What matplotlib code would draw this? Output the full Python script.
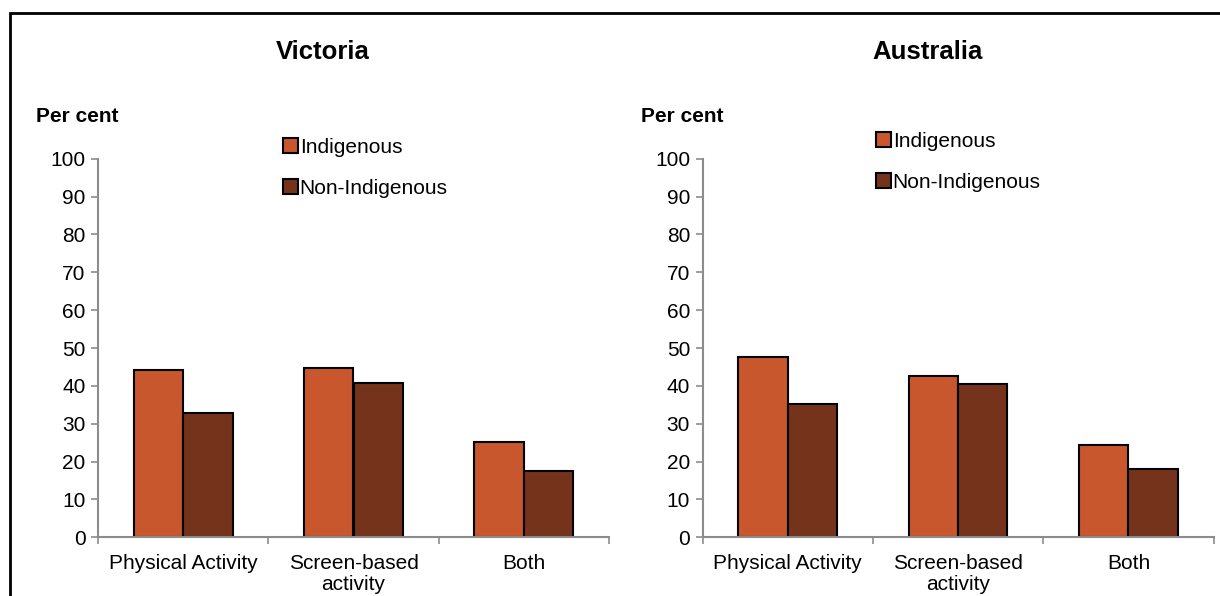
import numpy as np
import matplotlib
matplotlib.use('Agg')
import matplotlib.pyplot as plt
from matplotlib.patches import Rectangle
from matplotlib.ticker import FixedLocator

plt.rcParams['font.family'] = ['Liberation Sans', 'DejaVu Sans']

# データ
categories = ['Physical Activity', 'Screen-based\nactivity', 'Both']
series_names = ['Indigenous', 'Non-Indigenous']
victoria_indigenous = [44.3, 44.7, 25.2]
victoria_non_indigenous = [32.8, 40.8, 17.6]
australia_indigenous = [47.6, 42.5, 24.5]
australia_non_indigenous = [35.3, 40.4, 18.0]
panel_titles = ['Victoria', 'Australia']
y_ticks = list(range(0, 101, 10))

colors = ['#C9572E', '#76331B']
axis_grey = '#8C8C8C'

W, H = 1220, 596
fig = plt.figure(figsize=(W / 100, H / 100), dpi=100)

# 外枠（左と上のみ見える）
fig.patches.append(Rectangle((10 / W, -0.1), 1.2, 1 - 13 / H + 0.1,
                             transform=fig.transFigure, fill=False,
                             edgecolor='black', linewidth=2))

panels = [
    (victoria_indigenous, victoria_non_indigenous, 98, 323, 36, 283, 146),
    (australia_indigenous, australia_non_indigenous, 702.6, 928, 641, 876, 140),
]

for i, (ind, non, ax_left, title_x, ylab_x, leg_x, leg_y) in enumerate(panels):
    ax = fig.add_axes([ax_left / W, 1 - 537.3 / H, 511 / W, (537.3 - 158.7) / H])
    x = np.arange(len(categories))
    w = 0.29
    ax.bar(x - w / 2, ind, w, color=colors[0], edgecolor='black', linewidth=1.5,
           label=series_names[0])
    ax.bar(x + w / 2, non, w, color=colors[1], edgecolor='black', linewidth=1.5,
           label=series_names[1])

    ax.set_xlim(-0.5, len(categories) - 0.5)
    ax.set_ylim(0, 100)
    ax.set_yticks(y_ticks)
    ax.tick_params(axis='y', labelsize=15, length=5, color=axis_grey, width=1.2, pad=4)

    ax.set_xticks(x)
    ax.set_xticklabels(categories, fontsize=15, linespacing=1.15)
    ax.tick_params(axis='x', which='major', length=0, pad=12)
    ax.xaxis.set_minor_locator(FixedLocator(np.arange(-0.5, len(categories), 1.0)))
    ax.tick_params(axis='x', which='minor', length=5, color=axis_grey, width=1.2)

    for s in ['top', 'right']:
        ax.spines[s].set_visible(False)
    for s in ['left', 'bottom']:
        ax.spines[s].set_color(axis_grey)
        ax.spines[s].set_linewidth(1.5)

    fig.text(title_x / W, 1 - 52 / H, panel_titles[i], fontsize=18.5,
             fontweight='bold', ha='center', va='center')
    fig.text(ylab_x / W, 1 - 117 / H, 'Per cent', fontsize=15,
             fontweight='bold', ha='left', va='center')

    leg = ax.legend(loc='upper left', bbox_to_anchor=(leg_x / W, 1 - (leg_y - 8) / H),
                    bbox_transform=fig.transFigure, frameon=False, fontsize=15,
                    handlelength=0.7, handleheight=0.7, handletextpad=0.1,
                    labelspacing=1.05, borderpad=0, borderaxespad=0)
    for h in leg.legend_handles:
        h.set_linewidth(1.5)

fig.savefig('out.png', dpi=100)
